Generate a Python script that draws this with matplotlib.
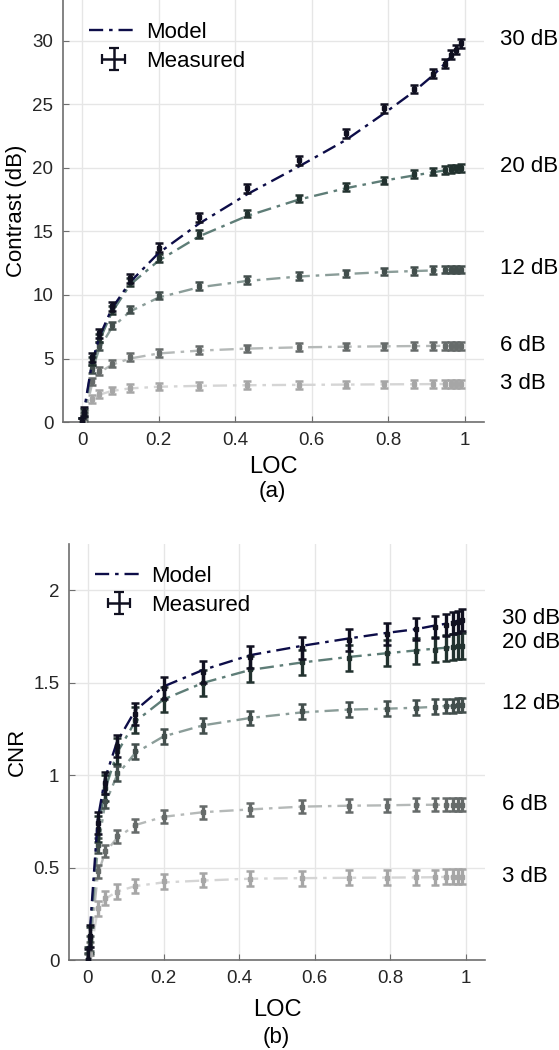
import matplotlib
matplotlib.use('Agg')
import matplotlib.pyplot as plt
import numpy as np

plt.rcParams['font.family'] = ['Liberation Sans', 'DejaVu Sans']

# LOC sample positions (shared by all series)
loc = [0, 0.005, 0.026, 0.045, 0.077, 0.125, 0.2, 0.305, 0.43, 0.566,
       0.69, 0.79, 0.867, 0.918, 0.948, 0.965, 0.978, 0.99]

labels = ['30 dB', '20 dB', '12 dB', '6 dB', '3 dB']

# (a) contrast in dB, measured
con_meas = [
    [0, 0.8, 5.1, 7.0, 9.1, 11.3, 13.7, 16.1, 18.4, 20.6, 22.7, 24.7, 26.2, 27.4, 28.2, 28.9, 29.3, 29.8],
    [0, 0.7, 4.8, 6.6, 8.8, 11.0, 12.9, 14.8, 16.4, 17.6, 18.5, 19.0, 19.5, 19.7, 19.85, 19.9, 19.95, 20.0],
    [0, 0.5, 4.2, 6.0, 7.6, 8.85, 9.95, 10.7, 11.2, 11.5, 11.7, 11.85, 11.9, 11.95, 12.0, 12.0, 12.0, 12.0],
    [0, 0.3, 3.2, 4.0, 4.6, 5.1, 5.45, 5.65, 5.8, 5.9, 5.95, 5.95, 6.0, 6.0, 6.0, 6.0, 6.0, 6.0],
    [0, 0.15, 1.8, 2.2, 2.5, 2.7, 2.8, 2.85, 2.9, 2.93, 2.95, 2.97, 2.98, 3.0, 3.0, 3.0, 3.0, 3.0],
]
# (a) contrast in dB, model
con_model = [
    [0, 0.9, 4.7, 6.7, 8.9, 11.0, 13.3, 15.6, 17.9, 20.1, 22.2, 24.3, 26.0, 27.3, 28.2, 28.8, 29.2, 29.6],
    [0, 0.7, 4.6, 6.4, 8.6, 10.8, 12.7, 14.6, 16.2, 17.5, 18.4, 19.0, 19.4, 19.65, 19.8, 19.85, 19.9, 19.95],
    [0, 0.5, 4.0, 5.8, 7.4, 8.7, 9.8, 10.6, 11.1, 11.45, 11.65, 11.8, 11.88, 11.93, 11.96, 11.98, 11.99, 12.0],
    [0, 0.3, 3.0, 3.9, 4.5, 5.0, 5.4, 5.62, 5.78, 5.88, 5.93, 5.96, 5.98, 5.99, 6.0, 6.0, 6.0, 6.0],
    [0, 0.15, 1.7, 2.15, 2.45, 2.65, 2.78, 2.85, 2.9, 2.93, 2.95, 2.97, 2.98, 2.99, 3.0, 3.0, 3.0, 3.0],
]
con_err = [0.35, 0.3, 0.3, 0.3, 0.3]

# (b) CNR, measured
cnr_meas = [
    [0, 0.13, 0.74, 0.96, 1.16, 1.33, 1.47, 1.56, 1.64, 1.69, 1.73, 1.765, 1.79, 1.80, 1.815, 1.825, 1.83, 1.84],
    [0, 0.11, 0.71, 0.93, 1.13, 1.30, 1.41, 1.50, 1.575, 1.61, 1.635, 1.66, 1.67, 1.68, 1.69, 1.695, 1.70, 1.70],
    [0, 0.09, 0.62, 0.86, 1.01, 1.13, 1.21, 1.27, 1.31, 1.345, 1.355, 1.36, 1.365, 1.37, 1.375, 1.375, 1.38, 1.38],
    [0, 0.06, 0.48, 0.59, 0.67, 0.73, 0.775, 0.80, 0.815, 0.83, 0.835, 0.835, 0.84, 0.84, 0.84, 0.84, 0.84, 0.84],
    [0, 0.03, 0.28, 0.335, 0.37, 0.40, 0.425, 0.433, 0.44, 0.443, 0.445, 0.446, 0.447, 0.448, 0.45, 0.45, 0.45, 0.45],
]
# (b) CNR, model
cnr_model = [
    [0, 0.15, 0.76, 0.98, 1.18, 1.35, 1.48, 1.57, 1.65, 1.70, 1.74, 1.77, 1.79, 1.81, 1.82, 1.83, 1.835, 1.84],
    [0, 0.12, 0.70, 0.92, 1.12, 1.29, 1.41, 1.50, 1.57, 1.61, 1.64, 1.66, 1.675, 1.685, 1.69, 1.695, 1.70, 1.70],
    [0, 0.09, 0.60, 0.84, 1.00, 1.12, 1.21, 1.27, 1.31, 1.34, 1.355, 1.36, 1.365, 1.37, 1.375, 1.375, 1.38, 1.38],
    [0, 0.05, 0.46, 0.58, 0.66, 0.73, 0.775, 0.80, 0.815, 0.83, 0.835, 0.837, 0.84, 0.84, 0.84, 0.84, 0.84, 0.84],
    [0, 0.02, 0.27, 0.33, 0.37, 0.40, 0.42, 0.43, 0.44, 0.443, 0.445, 0.446, 0.447, 0.448, 0.45, 0.45, 0.45, 0.45],
]
cnr_err = [0.06, 0.07, 0.04, 0.035, 0.04]

line_cols = ['#0d0d48', '#5e7d77', '#8b9d99', '#b5b9b8', '#d5d5d5']
mark_cols = ['#101020', '#22322f', '#434f4d', '#666b6a', '#a6a6a6']
dash = (6, 2.5, 1.5, 2.5)

fig = plt.figure(figsize=(5.59, 10.5), dpi=100)
ax1 = fig.add_axes([0.1127, 0.598, 0.753, 0.402])
ax2 = fig.add_axes([0.1234, 0.0857, 0.744, 0.396])


def draw(ax, meas, model, err, capsize, ms):
    for i in reversed(range(len(labels))):
        ax.plot(loc, model[i], color=line_cols[i], lw=1.7, dashes=dash, zorder=3 if i else 5)
        ax.errorbar(loc, meas[i], yerr=err[i], fmt='s', ms=ms, color=mark_cols[i],
                    elinewidth=2.4, capsize=capsize, capthick=1.8, zorder=4 if i else 6)


draw(ax1, con_meas, con_model, con_err, 2.7, 3)
draw(ax2, cnr_meas, cnr_model, cnr_err, 3.0, 3.5)

# legend handles
for ax in (ax1, ax2):
    ax.plot([np.nan], [np.nan], color=line_cols[0], lw=1.7, dashes=dash, label='Model')
    ax.errorbar([np.nan], [np.nan], xerr=[1], yerr=[1], fmt='none', color=mark_cols[0],
                elinewidth=1.8, capsize=3.5, capthick=1.6, label='Measured')
    h, l = ax.get_legend_handles_labels()
    ax.legend(h[-2:], l[-2:], loc='upper left', frameon=False, fontsize=16,
              handlelength=2.2, handletextpad=0.35, borderaxespad=0.3,
              bbox_to_anchor=(0.025, 0.985), labelspacing=0.35)

ax1.set_xlim(-0.05, 1.05)
ax1.set_ylim(0, 33.2)
ax1.set_yticks([0, 5, 10, 15, 20, 25, 30])
ax1.set_ylabel('Contrast (dB)', fontsize=16)
ax2.set_xlim(-0.05, 1.05)
ax2.set_ylim(0, 2.25)
ax2.set_yticks([0, 0.5, 1, 1.5, 2])
ax2.set_yticklabels(['0', '0.5', '1', '1.5', '2'])
ax2.set_ylabel('CNR', fontsize=16)

for ax, lp in ((ax1, 5), (ax2, 9)):
    ax.set_xticks([0, 0.2, 0.4, 0.6, 0.8, 1])
    ax.set_xticklabels(['0', '0.2', '0.4', '0.6', '0.8', '1'])
    ax.set_xlabel('LOC', fontsize=17, labelpad=lp)
    ax.grid(True, color='#e6e6e6', lw=1)
    ax.set_axisbelow(True)
    for s in ('top', 'right'):
        ax.spines[s].set_visible(False)
    for s in ('left', 'bottom'):
        ax.spines[s].set_color('#6e6e6e')
        ax.spines[s].set_linewidth(1.2)
    ax.tick_params(direction='in', length=4, color='#6e6e6e', labelsize=13.5,
                   labelcolor='#262626', pad=7)

# right-hand level labels
for lab, yv in zip(labels, [30.1, 20.1, 12.1, 6.0, 3.0]):
    ax1.text(1.091, yv, lab, fontsize=16, va='center', ha='left', clip_on=False)
for lab, yv in zip(labels, [1.85, 1.72, 1.39, 0.84, 0.45]):
    ax2.text(1.094, yv, lab, fontsize=16, va='center', ha='left', clip_on=False)

fig.text(0.488, 1 - 491 / 1050, '(a)', fontsize=16, ha='center', va='center')
fig.text(0.495, 1 - 1037 / 1050, '(b)', fontsize=16, ha='center', va='center')

fig.savefig('out.png', dpi=100)
